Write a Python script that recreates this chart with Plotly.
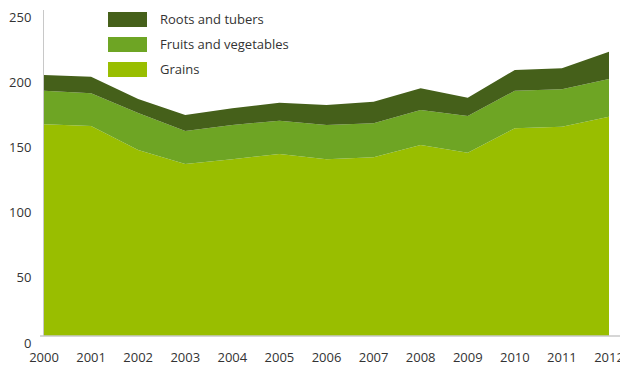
import plotly.graph_objects as go

years = [2000, 2001, 2002, 2003, 2004, 2005, 2006, 2007, 2008, 2009, 2010, 2011, 2012]
grains = [162.3, 161.0, 142.6, 131.9, 135.5, 139.6, 135.5, 137.0, 146.5, 140.6, 159.3, 160.5, 168.2]
fruits_veg = [25.8, 25.1, 28.4, 25.3, 26.3, 25.5, 26.3, 26.1, 26.8, 28.1, 28.8, 28.7, 28.9]
roots_tubers = [12.1, 12.7, 10.7, 12.3, 12.8, 13.8, 15.3, 16.6, 16.7, 14.0, 15.9, 16.1, 20.9]
y_ticks = [0, 50, 100, 150, 200, 250]

series = [
    ("Grains", grains, "#99BE00"),
    ("Fruits and vegetables", fruits_veg, "#6EA524"),
    ("Roots and tubers", roots_tubers, "#45601A"),
]

fig = go.Figure()
for name, vals, col in series:
    fig.add_trace(go.Scatter(
        x=years, y=vals, name=name, stackgroup="one", mode="none",
        fillcolor=col, line=dict(width=0), showlegend=False,
    ))

font = dict(family="Open Sans", size=13, color="#333333")

# page body has an 8px default margin, so the figure is sized to fit the window
fig.update_layout(
    width=620, height=360,
    margin=dict(l=36, r=19, t=2, b=32, autoexpand=False),
    paper_bgcolor="white", plot_bgcolor="white",
    font=font,
    xaxis=dict(range=[2000, 2012], tickvals=years, ticktext=[str(y) for y in years],
               showgrid=False, zeroline=False, showline=False, automargin=False,
               ticks="", ticklabelstandoff=12, ticklabeloverflow="allow", tickfont=font),
    yaxis=dict(range=[0, 250], tickvals=y_ticks, showgrid=False, zeroline=False,
               showline=True, linecolor="#c8c8c8", linewidth=1, automargin=False,
               ticks="", ticklabelstandoff=9, ticklabelshift=7,
               ticklabeloverflow="allow", tickfont=font),
)

# x-axis baseline extending beyond the plot area
fig.add_shape(type="line", xref="paper", yref="paper", x0=-0.007, x1=1.028, y0=0, y1=0,
              line=dict(color="#c8c8c8", width=1.5))

# custom legend
legend_items = [
    ("Roots and tubers", "#45601A", 0.9939, 0.9479, 0.9709),
    ("Fruits and vegetables", "#6EA524", 0.9172, 0.8712, 0.8942),
    ("Grains", "#99BE00", 0.8405, 0.7945, 0.8175),
]
for label, col, y0, y1, yc in legend_items:
    fig.add_shape(type="rect", xref="paper", yref="paper", x0=0.1133, x1=0.1823,
                  y0=y1, y1=y0, fillcolor=col, line=dict(width=0))
    fig.add_annotation(xref="paper", yref="paper", x=0.2018, y=yc, text=label,
                       showarrow=False, xanchor="left", yanchor="middle", font=font)

fig.write_html("out.html")
